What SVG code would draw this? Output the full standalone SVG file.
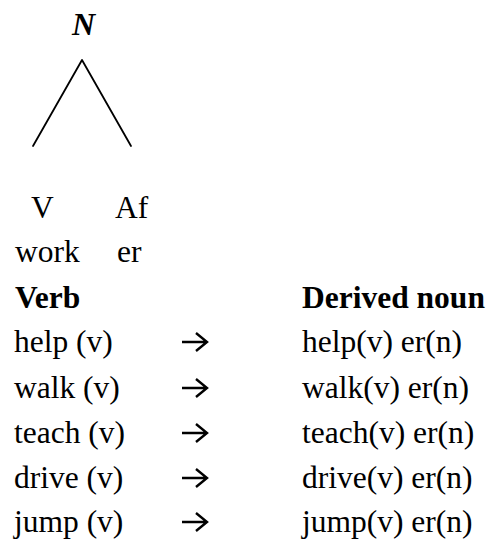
<svg xmlns="http://www.w3.org/2000/svg" width="490" height="541" viewBox="0 0 490 541">
<style>
text{font-family:"Liberation Serif","Times New Roman",serif;font-size:31.5px;fill:#000}
.b{font-weight:bold}
.n{font-weight:bold;font-style:italic;font-size:32px}
.ln{stroke:#000;stroke-width:1.8;fill:none;stroke-linecap:round}
.ar{stroke:#000;stroke-width:2.4;fill:none}
</style>
<rect width="490" height="541" fill="#fff"/>
<g id="tree-connectors">
<path class="ln" d="M82 60 L33 146 M82 60 L131 146"/>
</g>
<g id="node-N"><text class="n" x="72" y="35">N</text></g>
<g id="node-V"><text x="31" y="218">V</text><text x="15" y="262">work</text></g>
<g id="node-Af"><text x="115" y="218">Af</text><text x="117" y="262">er</text></g>
<g id="table">
<text class="b" x="15" y="308">Verb</text>
<text class="b" x="302" y="308">Derived noun</text>
<text x="14" y="352">help (v)</text>
<text x="14" y="398">walk (v)</text>
<text x="14" y="443">teach (v)</text>
<text x="14" y="488">drive (v)</text>
<text x="14" y="532">jump (v)</text>
<text x="302" y="352">help(v) er(n)</text>
<text x="302" y="398">walk(v) er(n)</text>
<text x="302" y="443">teach(v) er(n)</text>
<text x="302" y="488">drive(v) er(n)</text>
<text x="302" y="532">jump(v) er(n)</text>
</g>
<g id="arrows">
<path class="ar" d="M182 342 H207 M196 333 L207 342 L196 351"/>
<path class="ar" d="M182 388 H207 M196 379 L207 388 L196 397"/>
<path class="ar" d="M182 433 H207 M196 424 L207 433 L196 442"/>
<path class="ar" d="M182 478 H207 M196 469 L207 478 L196 487"/>
<path class="ar" d="M182 522 H207 M196 513 L207 522 L196 531"/>
</g>
</svg>
